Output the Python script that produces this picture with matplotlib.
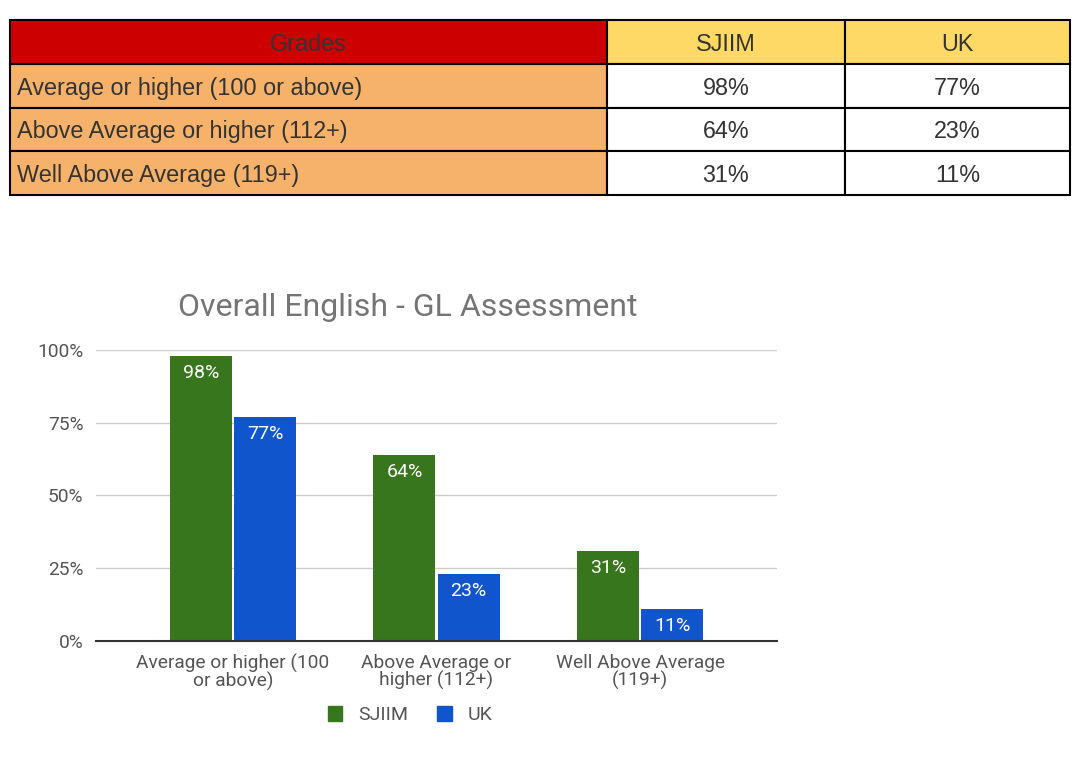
import numpy as np
import matplotlib.pyplot as plt
from matplotlib.patches import Patch

# data
grades = ['Average or higher (100 or above)',
          'Above Average or higher (112+)',
          'Well Above Average (119+)']
tick_labels = ['Average or higher (100\nor above)',
               'Above Average or\nhigher (112+)',
               'Well Above Average\n(119+)']
series_names = ['SJIIM', 'UK']
sjiim = [98, 64, 31]
uk = [77, 23, 11]

green = '#38761d'
blue = '#1155cc'

W, H = 1080, 764
fig = plt.figure(figsize=(W / 100, H / 100), dpi=100)

## ---------------------------- table ---------------------------------##
tax = fig.add_axes([10 / W, 1 - 195 / H, 1060 / W, 175 / H])
tax.axis('off')
cells = [[g, f'{a}%', f'{b}%'] for g, a, b in zip(grades, sjiim, uk)]
colours = [['#f6b26b', 'white', 'white'] for _ in grades]
tbl = tax.table(cellText=cells, colLabels=['Grades'] + series_names,
                cellColours=colours,
                colColours=['#cc0000', '#ffd966', '#ffd966'],
                colWidths=[597, 238, 225], bbox=[0, 0, 1, 1])
tbl.auto_set_font_size(False)
for (r, c), cell in tbl.get_celld().items():
    cell.set_linewidth(1.5)
    cell.set_edgecolor('black')
    txt = cell.get_text()
    txt.set_fontfamily('Liberation Sans')
    txt.set_fontsize(16.8)
    txt.set_color('#333333')
    txt.set_va('center_baseline')
    if r > 0 and c == 0:
        txt.set_ha('left')
        cell.PAD = 0.012
    else:
        txt.set_ha('center')

## ---------------------------- chart ---------------------------------##
plt.rcParams['font.family'] = ['Roboto', 'DejaVu Sans']
ax = fig.add_axes([96 / W, 1 - 641 / H, 681 / W, 291 / H])
x = np.arange(len(grades))
bw = 0.305
b1 = ax.bar(x - bw / 2 - 0.005, np.array(sjiim) / 100, bw, color=green, zorder=3)
b2 = ax.bar(x + bw / 2 + 0.005, np.array(uk) / 100, bw, color=blue, zorder=3)
for bars, vals in ((b1, sjiim), (b2, uk)):
    for b, v in zip(bars, vals):
        ax.annotate(f'{v}%', (b.get_x() + b.get_width() / 2, b.get_height()),
                    xytext=(0, -17), textcoords='offset pixels',
                    ha='center', va='center', color='white', fontsize=14,
                    zorder=4)

ax.set_xlim(-0.673, 2.673)
ax.set_ylim(0, 1)
ax.set_yticks([0, 0.25, 0.5, 0.75, 1.0])
ax.set_yticklabels(['0%', '25%', '50%', '75%', '100%'])
ax.set_xticks(x)
ax.set_xticklabels(tick_labels, linespacing=0.95)
ax.tick_params(axis='both', length=0, colors='#555555', labelsize=13.8)
ax.tick_params(axis='y', pad=9)
ax.tick_params(axis='x', pad=9)
ax.grid(axis='y', color='#cccccc', linewidth=1, zorder=0)
for s in ['top', 'right', 'left']:
    ax.spines[s].set_visible(False)
ax.spines['bottom'].set_color('#333333')
ax.spines['bottom'].set_linewidth(1.5)
ax.spines['bottom'].set_zorder(5)

fig.text(408 / W, 1 - 308 / H, 'Overall English - GL Assessment',
         ha='center', va='center', fontsize=23, color='#757575')

handles = [Patch(color=green, label=series_names[0]),
           Patch(color=blue, label=series_names[1])]
fig.legend(handles=handles, loc='center', bbox_to_anchor=(410 / W, 1 - 715 / H),
           ncol=2, frameon=False, fontsize=14, handlelength=0.75, handleheight=0.85,
           handletextpad=0.8, columnspacing=1.5, labelcolor='#555555')

fig.savefig('out.png', dpi=100, facecolor='white')
